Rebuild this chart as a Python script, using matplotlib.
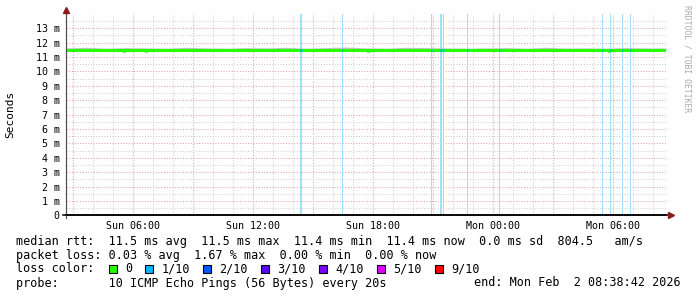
import datetime as dt
import matplotlib
matplotlib.use("Agg")
import matplotlib.pyplot as plt
import matplotlib.dates as mdates
from matplotlib.patches import Rectangle
from matplotlib.ticker import FixedLocator, FuncFormatter

W, H = 697, 297
MONO = "DejaVu Sans Mono"

start = dt.datetime(2026, 2, 1, 2, 38, 42)
end = dt.datetime(2026, 2, 2, 8, 38, 42)

# median rtt in ms, one reading per hour from start to end
median_ms = [11.46, 11.46, 11.46, 11.46, 11.46, 11.46, 11.46, 11.46, 11.46, 11.46,
             11.46, 11.46, 11.46, 11.46, 11.46, 11.46, 11.46, 11.46, 11.46, 11.46,
             11.46, 11.46, 11.46, 11.46, 11.46, 11.46, 11.46, 11.46, 11.46, 11.46, 11.46]
# top of the smoke (slowest pings), ms, per hour
smoke_top_ms = [11.64, 11.68, 11.62, 11.66, 11.64, 11.62, 11.68, 11.64, 11.62, 11.66,
                11.64, 11.68, 11.62, 11.66, 11.70, 11.64, 11.62, 11.68, 11.66, 11.64,
                11.62, 11.64, 11.66, 11.62, 11.68, 11.63, 11.64, 11.62, 11.66, 11.64, 11.63]
# short dips in the median
dip_times = ["2026-02-01 05:32", "2026-02-01 06:38", "2026-02-01 17:44", "2026-02-02 05:47"]
dip_ms = [11.33, 11.33, 11.33, 11.33]

# steps with 1/10 packet loss (start, length in minutes)
loss_times = ["2026-02-01 14:21", "2026-02-01 16:26", "2026-02-01 20:53", "2026-02-01 21:21",
              "2026-02-01 21:30", "2026-02-01 22:41", "2026-02-02 00:19", "2026-02-02 05:27",
              "2026-02-02 05:51", "2026-02-02 06:27", "2026-02-02 06:51"]
loss_minutes = [6, 3, 3, 6, 3, 3, 3, 3, 3, 3, 3]

loss_labels = ["0", "1/10", "2/10", "3/10", "4/10", "5/10", "9/10"]
loss_colors = ["#26ff00", "#00b8ff", "#0059ff", "#5e00ff", "#7e00ff", "#dd00ff", "#ff0000"]

rtt_avg, rtt_max, rtt_min, rtt_now, rtt_sd, rtt_ams = 11.5, 11.5, 11.4, 11.4, 0.0, 804.5
loss_avg, loss_max, loss_min, loss_now = 0.03, 1.67, 0.00, 0.00
probe = "10 ICMP Echo Pings (56 Bytes) every 20s"

hours = [start + dt.timedelta(hours=i) for i in range(len(median_ms))]
to_dt = lambda s: dt.datetime.strptime(s, "%Y-%m-%d %H:%M")

fig = plt.figure(figsize=(W / 100, H / 100), dpi=100)
fig.patch.set_facecolor("white")

# plot area: x 66..666 px, y 13.9..215.4 px
ax = fig.add_axes([66 / W, (H - 215.4) / H, 600 / W, 201.5 / H])
ax.set_xlim(start, end)
ax.set_ylim(0, 14)
ax.set_axisbelow(True)

ax.xaxis.set_major_locator(mdates.HourLocator(byhour=range(0, 24, 3)))
ax.xaxis.set_minor_locator(mdates.HourLocator())
ax.xaxis.set_major_formatter(FuncFormatter(
    lambda v, p: mdates.num2date(v).strftime("%a %H:%M") if mdates.num2date(v).hour % 6 == 0 else ""))
ax.yaxis.set_major_locator(FixedLocator(range(0, 14)))
ax.yaxis.set_minor_locator(FixedLocator([i + 0.5 for i in range(14)]))
ax.yaxis.set_major_formatter(FuncFormatter(lambda v, p: "0" if v == 0 else "%d m" % v))

ax.grid(which="major", color="#e2a6a6", linestyle=(0, (1, 1.6)), lw=0.75)
ax.grid(which="minor", color="#cfcfcf", linestyle=(0, (1, 1.6)), lw=0.75)
ax.tick_params(which="both", length=0)
ax.tick_params(axis="x", pad=4, labelsize=7.2)
ax.tick_params(axis="y", pad=4.5, labelsize=7.2)
for lab in ax.get_xticklabels() + ax.get_yticklabels():
    lab.set_fontfamily(MONO)

for s in ["top", "right"]:
    ax.spines[s].set_visible(False)
ax.spines["left"].set_color("#505050")
ax.spines["left"].set_linewidth(0.8)
ax.spines["bottom"].set_color("black")
ax.spines["bottom"].set_linewidth(1.1)

# loss bars
for t, m in zip(loss_times, loss_minutes):
    t0 = to_dt(t)
    ax.axvspan(t0, t0 + dt.timedelta(minutes=m), color="#9ee0ff", lw=0, zorder=2)

# smoke and median
ax.fill_between(hours, median_ms, smoke_top_ms, color="#c4c4c4", lw=0, zorder=3)
ax.plot(hours, median_ms, color=loss_colors[0], lw=2.2, solid_capstyle="butt", zorder=4)
for t, v in zip(dip_times, dip_ms):
    t0 = to_dt(t)
    ax.plot([t0, t0 + dt.timedelta(minutes=4)], [v, v], color=loss_colors[0], lw=1.2, zorder=4)
for t, m in zip(loss_times, loss_minutes):
    t0 = to_dt(t)
    ax.plot([t0, t0 + dt.timedelta(minutes=m)], [median_ms[0]] * 2, color=loss_colors[1],
            lw=2.2, solid_capstyle="butt", zorder=5)

# overlay in pixel coordinates for arrows and legend
ov = fig.add_axes([0, 0, 1, 1])
ov.set_xlim(0, W)
ov.set_ylim(H, 0)
ov.axis("off")
ov.patch.set_alpha(0)
ov.plot([66, 66], [218, 12], color="#505050", lw=0.8)
ov.plot([66], [10], marker="^", ms=5, color="#8b1a1a", mec="#8b1a1a")
ov.plot([63, 668], [215.4, 215.4], color="black", lw=1.1)
ov.plot([670.5], [215.4], marker=">", ms=5, color="#8b1a1a", mec="#8b1a1a")

ov.text(10, 114, "Seconds", rotation=90, ha="center", va="center", fontsize=8, fontfamily=MONO)
ov.text(687, 59, "RRDTOOL / TOBI OETIKER", rotation=270, ha="center", va="center",
        fontsize=5.8, fontfamily=MONO, color="#aaaaaa")

tx = dict(fontsize=8.5, fontfamily=MONO, va="center", ha="left")
line1 = "median rtt:  %.1f ms avg  %.1f ms max  %.1f ms min  %.1f ms now  %.1f ms sd  %.1f   am/s" % (
    rtt_avg, rtt_max, rtt_min, rtt_now, rtt_sd, rtt_ams)
line2 = "packet loss: %.2f %% avg  %.2f %% max  %.2f %% min  %.2f %% now" % (
    loss_avg, loss_max, loss_min, loss_now)
ov.text(16, 241, line1, **tx)
ov.text(16, 255.5, line2, **tx)
ov.text(16, 269, "loss color:", **tx)
x = 109
for lab, col in zip(loss_labels, loss_colors):
    ov.add_patch(Rectangle((x, 264.5), 8, 8.5, facecolor=col, edgecolor="black", lw=0.8))
    ov.text(x + 16, 269, lab, **tx)
    x += (len(lab) + 4) * 7.25
ov.text(16, 283, "probe:       " + probe, **tx)
ov.text(681, 283, "end: " + end.strftime("%a %b ") + str(end.day).rjust(2) + end.strftime(" %H:%M:%S %Y"),
        fontsize=8.5, fontfamily=MONO, va="center", ha="right")

fig.savefig("out.png", dpi=100)
